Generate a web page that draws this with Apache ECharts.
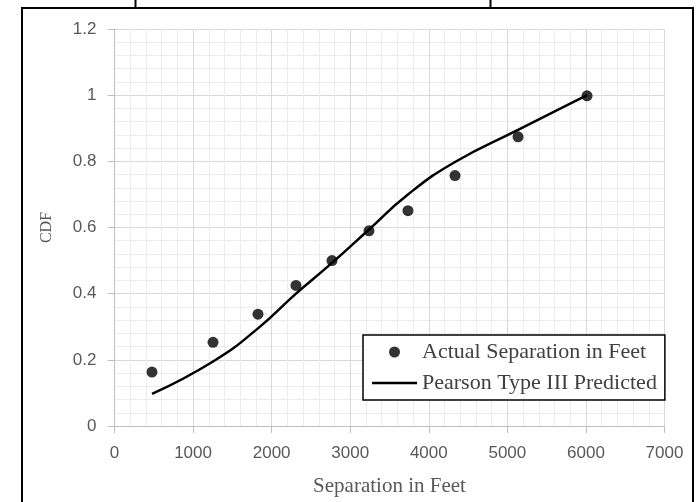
<!DOCTYPE html>
<html>
<head>
<meta charset="utf-8">
<script src="https://cdn.jsdelivr.net/npm/echarts@6/dist/echarts.min.js"></script>
<style>
html,body{margin:0;padding:0;background:#fff;}
#chart{width:696px;height:502px;}
</style>
</head>
<body>
<div id="chart"></div>
<script>
// Data
var actualX = [477, 1254, 1826, 2310, 2768, 3239, 3735, 4334, 5136, 6014];
var actualCDF = [0.163, 0.253, 0.338, 0.425, 0.50, 0.59, 0.651, 0.757, 0.874, 0.998];
var predictedCDF = [0.097, 0.195, 0.295, 0.40, 0.493, 0.594, 0.70, 0.798, 0.895, 1.0];
var seriesNames = ['Actual Separation in Feet', 'Pearson Type III Predicted'];
var xAxisTitle = 'Separation in Feet';
var yAxisTitle = 'CDF';
var xTicks = [0, 1000, 2000, 3000, 4000, 5000, 6000, 7000];
var yTicks = [0, 0.2, 0.4, 0.6, 0.8, 1, 1.2];

var chart = echarts.init(document.getElementById('chart'), null, {renderer: 'canvas'});
var labelFont = {fontFamily: 'Liberation Sans', fontSize: 17, color: '#595959'};
var serif = 'Liberation Serif';

var scatterData = actualX.map(function (x, i) { return [x, actualCDF[i]]; });
var lineData = actualX.map(function (x, i) { return [x, predictedCDF[i]]; });

chart.setOption({
  animation: false,
  backgroundColor: '#ffffff',
  grid: {left: 114.5, right: 31.5, top: 29, bottom: 75, containLabel: false},
  xAxis: {
    type: 'value',
    min: xTicks[0], max: xTicks[xTicks.length - 1], interval: 1000,
    name: xAxisTitle, nameLocation: 'middle', nameGap: 50,
    nameTextStyle: {fontFamily: serif, fontSize: 21, color: '#595959'},
    axisLine: {show: true, lineStyle: {color: '#bfbfbf', width: 1}},
    axisTick: {show: true, length: 7, lineStyle: {color: '#bfbfbf'}},
    axisLabel: Object.assign({margin: 19, formatter: function (v) { return String(v); }}, labelFont),
    splitLine: {show: true, lineStyle: {color: '#d9d9d9', width: 1}},
    minorTick: {show: false, splitNumber: 5},
    minorSplitLine: {show: true, lineStyle: {color: '#ececec', width: 1}}
  },
  yAxis: {
    type: 'value',
    min: yTicks[0], max: yTicks[yTicks.length - 1], interval: 0.2,
    name: yAxisTitle, nameLocation: 'middle', nameGap: 60, nameRotate: 90,
    nameTextStyle: {fontFamily: serif, fontSize: 16, color: '#595959'},
    axisLine: {show: true, lineStyle: {color: '#bfbfbf', width: 1}},
    axisTick: {show: true, length: 7, lineStyle: {color: '#bfbfbf'}},
    axisLabel: Object.assign({margin: 18}, labelFont),
    splitLine: {show: true, lineStyle: {color: '#d9d9d9', width: 1}},
    minorTick: {show: false, splitNumber: 5},
    minorSplitLine: {show: true, lineStyle: {color: '#ececec', width: 1}}
  },
  legend: {
    orient: 'vertical',
    left: 363, top: 335,
    padding: [6, 8, 6, 9],
    itemGap: 9,
    itemWidth: 45, itemHeight: 11,
    symbolKeepAspect: true,
    backgroundColor: '#ffffff',
    borderColor: '#000000', borderWidth: 1.5,
    textStyle: {fontFamily: serif, fontSize: 22, color: '#404040'},
    data: [
      {name: seriesNames[0], icon: 'circle'},
      {name: seriesNames[1], icon: 'path://M0,0L100,0L100,5.5L0,5.5Z'}
    ]
  },
  series: [
    {
      name: seriesNames[0], type: 'scatter',
      symbol: 'circle', symbolSize: 11,
      itemStyle: {color: '#000000'},
      data: scatterData, z: 3
    },
    {
      name: seriesNames[1], type: 'line',
      smooth: 0.5, symbol: 'none', showSymbol: false,
      lineStyle: {color: '#000000', width: 2.5},
      itemStyle: {color: '#000000'},
      data: lineData, z: 2
    }
  ],
  graphic: [
    {type: 'rect', shape: {x: 22, y: 8, width: 671, height: 510}, style: {fill: null, stroke: '#000000', lineWidth: 2}, silent: true, z: 100},
    {type: 'line', shape: {x1: 135.5, y1: 0, x2: 135.5, y2: 8}, style: {stroke: '#000000', lineWidth: 2}, silent: true, z: 100},
    {type: 'line', shape: {x1: 490.5, y1: 0, x2: 490.5, y2: 8}, style: {stroke: '#000000', lineWidth: 2}, silent: true, z: 100}
  ]
});
</script>
</body>
</html>
